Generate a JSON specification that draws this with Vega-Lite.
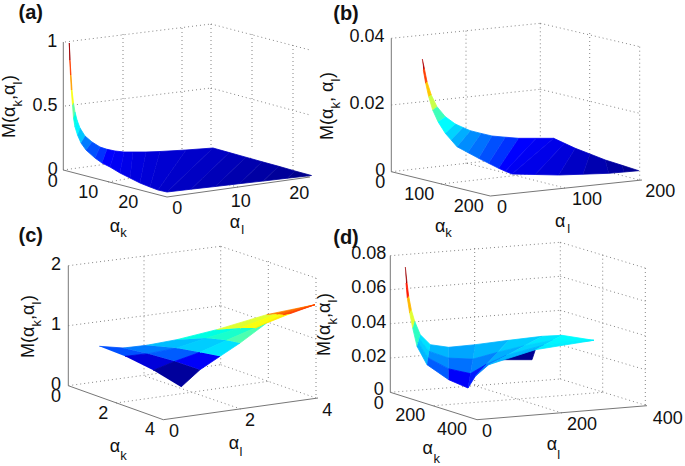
{
"$schema":"https://vega.github.io/schema/vega-lite/v6.json",
"width":685,"height":466,"padding":0,
"autosize":{"type":"fit","contains":"padding"},
"background":"white",
"view":{"stroke":null},
"datasets":{
"grid":[
{"x":65,"y":42,"x2":211,"y2":24},{"x":211,"y":24,"x2":310,"y2":50},{"x":65,"y":106,"x2":211,"y2":88},{"x":211,"y":88,"x2":310,"y2":115},
{"x":123,"y":34,"x2":123,"y2":160},{"x":182,"y":28,"x2":182,"y2":155},{"x":211,"y":24,"x2":211,"y2":150},{"x":252,"y":34,"x2":252,"y2":150},{"x":293,"y":45,"x2":293,"y2":170},
{"x":63,"y":170,"x2":211,"y2":150},{"x":211,"y":150,"x2":310,"y2":177},{"x":108,"y":182,"x2":252,"y2":158},{"x":238,"y":187,"x2":123,"y2":160},
{"x":391.3,"y":38.3,"x2":540.3,"y2":23.3},{"x":540.3,"y":23.3,"x2":639.7,"y2":46.7},{"x":391.3,"y":105,"x2":540.3,"y2":89.3},{"x":540.3,"y":89.3,"x2":639.7,"y2":113.3},
{"x":466,"y":30.7,"x2":466,"y2":165},{"x":540.3,"y":23.3,"x2":540.3,"y2":155},{"x":589.7,"y":33,"x2":589.7,"y2":167},{"x":639.7,"y":46.7,"x2":639.7,"y2":180},
{"x":391.3,"y":171.7,"x2":540.3,"y2":155},{"x":540.3,"y":155,"x2":639.7,"y2":180},{"x":441,"y":184,"x2":589.7,"y2":167},{"x":565,"y":188,"x2":466,"y2":163},
{"x":68.3,"y":265.7,"x2":220.7,"y2":246.3},{"x":220.7,"y":246.3,"x2":316,"y2":278},{"x":68.3,"y":325.7,"x2":220.7,"y2":305.7},{"x":220.7,"y":305.7,"x2":316,"y2":339},
{"x":144,"y":256.3,"x2":144,"y2":375.7},{"x":220.7,"y":246.3,"x2":220.7,"y2":364.7},{"x":268.3,"y":261,"x2":268.3,"y2":381.3},{"x":316,"y":278,"x2":316,"y2":398},
{"x":68.3,"y":385.7,"x2":220.7,"y2":364.7},{"x":220.7,"y":364.7,"x2":316,"y2":398},{"x":116,"y":403,"x2":268.3,"y2":381.3},{"x":240.7,"y":409,"x2":144,"y2":375.7},
{"x":390.3,"y":255.7,"x2":560.3,"y2":242.3},{"x":560.3,"y":242.3,"x2":645.3,"y2":268},{"x":390.3,"y":289.7,"x2":560.3,"y2":276.3},{"x":560.3,"y":276.3,"x2":645.3,"y2":301.3},
{"x":390.3,"y":323.7,"x2":560.3,"y2":310.3},{"x":560.3,"y":310.3,"x2":645.3,"y2":335.7},{"x":390.3,"y":358,"x2":560.3,"y2":344.7},{"x":560.3,"y":344.7,"x2":645.3,"y2":369.7},
{"x":474.7,"y":248,"x2":474.7,"y2":385.7},{"x":560.3,"y":242.3,"x2":560.3,"y2":379},{"x":602.7,"y":254.7,"x2":602.7,"y2":392.3},{"x":645.3,"y":268,"x2":645.3,"y2":405.7},
{"x":390.3,"y":392.3,"x2":560.3,"y2":379},{"x":560.3,"y":379,"x2":647,"y2":405.7},{"x":433.7,"y":405.7,"x2":602.7,"y2":392.3},{"x":562,"y":413,"x2":474.7,"y2":385.7}
],
"axes":[
{"x":63.3,"y":42,"x2":63.3,"y2":170},{"x":63.3,"y":170,"x2":167,"y2":197},{"x":167,"y":197,"x2":310,"y2":177},
{"x":391.3,"y":38.3,"x2":391.3,"y2":171.7},{"x":391.3,"y":171.7,"x2":490.3,"y2":196},{"x":490.3,"y":196,"x2":642,"y2":180},
{"x":68.3,"y":265.7,"x2":68.3,"y2":385.7},{"x":68.3,"y":385.7,"x2":163.3,"y2":419.7},{"x":163.3,"y":419.7,"x2":318,"y2":398},
{"x":390.3,"y":255.7,"x2":390.3,"y2":392.3},{"x":390.3,"y":392.3,"x2":477,"y2":419.7},{"x":477,"y":419.7,"x2":647,"y2":405.7}
],
"surface":[
{"patch":"a1","v":0.97,"x":[69.3,70,69.8,69.3],"y":[43,60,60,43]},
{"patch":"a2","v":0.85,"x":[70,71,70.5,69.8],"y":[60,75,75,60]},
{"patch":"a3","v":0.75,"x":[71,72,71.3,70.5],"y":[75,90,90,75]},
{"patch":"a4","v":0.62,"x":[72,73.5,72.5,71.3],"y":[90,103,105,90]},
{"patch":"a5","v":0.5,"x":[73.5,75,73.5,72.5],"y":[103,112,118,105]},
{"patch":"a6","v":0.42,"x":[75,77,75,73.5],"y":[112,120,127,118]},
{"patch":"a7","v":0.36,"x":[77,80,77.5,75],"y":[120,128,135,127]},
{"patch":"a8","v":0.29,"x":[80,85,81,77.5],"y":[128,136,143,135]},
{"patch":"a9","v":0.2,"x":[85,92,86,81],"y":[136,142,150,143]},
{"patch":"a10","v":0.16,"x":[92,100,95,86],"y":[142,147,158,150]},
{"patch":"a11","v":0.14,"x":[100,107,102,95],"y":[147,149.3,163,158]},
{"patch":"a12","v":0.125,"x":[107,115,110,102],"y":[149.3,151,167,163]},
{"patch":"a13","v":0.115,"x":[115,124,120,110],"y":[151,152,173,167]},
{"patch":"a14","v":0.105,"x":[124,133,130,120],"y":[152,152,178,173]},
{"patch":"a15","v":0.095,"x":[133,146,140,130],"y":[152,152,183,178]},
{"patch":"a16","v":0.088,"x":[146,160,150,140],"y":[152,151.5,187,183]},
{"patch":"a17","v":0.082,"x":[160,186,158,150],"y":[151.5,150,190,187]},
{"patch":"a18","v":0.075,"x":[186,213,167,158],"y":[150,148,192,190]},
{"patch":"a19","v":0.068,"x":[213,229.4,191,167],"y":[148,152.6,189.2,192]},
{"patch":"a20","v":0.058,"x":[229.4,245.8,215.2,191],"y":[152.6,157.2,186.5,189.2]},
{"patch":"a21","v":0.048,"x":[245.8,262.2,239.2,215.2],"y":[157.2,161.8,183.7,186.5]},
{"patch":"a22","v":0.038,"x":[262.2,278.7,263.3,239.2],"y":[161.8,166.3,181,183.7]},
{"patch":"a23","v":0.028,"x":[278.7,295,287.4,263.3],"y":[166.3,171,178.2,181]},
{"patch":"a24","v":0.015,"x":[295,311.5,287.4],"y":[171,175.5,178.2]},
{"patch":"b1","v":0.95,"x":[422.3,424.3,423.3],"y":[59,68.3,70]},
{"patch":"b2","v":0.85,"x":[424.3,427,425.7,423.3],"y":[68.3,81.7,83.3,70]},
{"patch":"b3","v":0.7,"x":[427,431.3,428.7,425.7],"y":[81.7,95,96.7,83.3]},
{"patch":"b4","v":0.58,"x":[431.3,437,432.7,428.7],"y":[95,106.7,110,96.7]},
{"patch":"b5","v":0.47,"x":[437,445.3,438,432.7],"y":[106.7,116.7,121.7,110]},
{"patch":"b6","v":0.37,"x":[445.3,455.3,445.3,438],"y":[116.7,124,133.3,121.7]},
{"patch":"b7","v":0.31,"x":[455.3,462.8,451.2,445.3],"y":[124,127.4,140,133.3]},
{"patch":"b8","v":0.26,"x":[462.8,470.3,457,451.2],"y":[127.4,130.7,146.7,140]},
{"patch":"b9","v":0.22,"x":[470.3,481,467.8,457],"y":[130.7,133.4,152.5,146.7]},
{"patch":"b10","v":0.19,"x":[481,492,478.7,467.8],"y":[133.4,136,158.3,152.5]},
{"patch":"b11","v":0.16,"x":[492,505.3,488.7,478.7],"y":[136,137.2,163.3,158.3]},
{"patch":"b12","v":0.14,"x":[505.3,518.7,498.7,488.7],"y":[137.2,138.3,168.3,163.3]},
{"patch":"b13","v":0.125,"x":[518.7,536.2,505.3,498.7],"y":[138.3,138.3,171.2,168.3]},
{"patch":"b14","v":0.115,"x":[536.2,553.7,512,505.3],"y":[138.3,138.3,174,171.2]},
{"patch":"b15","v":0.105,"x":[553.7,564.5,535.3,512],"y":[138.3,143.3,174.5,174]},
{"patch":"b16","v":0.09,"x":[564.5,575.3,558.7,535.3],"y":[143.3,148.3,175,174.5]},
{"patch":"b17","v":0.07,"x":[575.3,590,583,558.7],"y":[148.3,154,174.2,175]},
{"patch":"b18","v":0.05,"x":[590,605.3,608.7,583],"y":[154,160,173.3,174.2]},
{"patch":"b19","v":0.035,"x":[605.3,622,624,608.7],"y":[160,165.3,172,173.3]},
{"patch":"b20","v":0.02,"x":[622,638.7,624],"y":[165.3,170.7,172]},
{"patch":"c1","v":0.16,"x":[99.3,123.3,148.3,125],"y":[346.3,348,353.7,356.3]},
{"patch":"c2","v":0.09,"x":[125,148.3,175,153.3],"y":[356.3,353.7,361.3,370.3]},
{"patch":"c3","v":0.03,"x":[153.3,175,200,181],"y":[370.3,361.3,369.7,387]},
{"patch":"c4","v":0.2,"x":[123.3,146.7,176.7,148.3],"y":[348,345.3,348,353.7]},
{"patch":"c5","v":0.17,"x":[148.3,176.7,200,175],"y":[353.7,348,352.3,361.3]},
{"patch":"c6","v":0.12,"x":[175,200,220,200],"y":[361.3,352.3,356.3,369.7]},
{"patch":"c7","v":0.28,"x":[146.7,176.7,206.7,176.7],"y":[345.3,339.7,338,348]},
{"patch":"c8","v":0.3,"x":[176.7,206.7,226.7,200],"y":[348,338,340.3,352.3]},
{"patch":"c9","v":0.33,"x":[200,226.7,240,220],"y":[352.3,340.3,343,356.3]},
{"patch":"c10","v":0.42,"x":[176.7,216.7,240,206.7],"y":[339.7,329.7,328,338]},
{"patch":"c11","v":0.45,"x":[206.7,240,255,226.7],"y":[338,328,328,340.3]},
{"patch":"c12","v":0.48,"x":[226.7,255,266.7,240],"y":[340.3,328,323,343]},
{"patch":"c13","v":0.6,"x":[216.7,266.7,276.7,240],"y":[329.7,314.7,314,328]},
{"patch":"c14","v":0.62,"x":[240,276.7,283.3,255],"y":[328,314,314.7,328]},
{"patch":"c15","v":0.65,"x":[255,283.3,290,266.7],"y":[328,314.7,313.7,323]},
{"patch":"c16","v":0.78,"x":[266.7,315,276.7],"y":[314.7,304.7,314]},
{"patch":"c17","v":0.82,"x":[276.7,315,283.3],"y":[314,304.7,314.7]},
{"patch":"c18","v":0.85,"x":[283.3,315,290],"y":[314.7,304.7,313.7]},
{"patch":"d0","v":0.02,"x":[498.7,532,535.3,515.3],"y":[359.7,359.7,349.7,353.7]},
{"patch":"d1","v":0.97,"x":[405.3,407,406],"y":[267,283,283]},
{"patch":"d2","v":0.87,"x":[407,408.7,407.3,406],"y":[283,296.3,298,283]},
{"patch":"d3","v":0.72,"x":[408.7,411.3,409.7,407.3],"y":[296.3,309.7,313,298]},
{"patch":"d4","v":0.6,"x":[411.3,414.7,412.7,409.7],"y":[309.7,321.3,328,313]},
{"patch":"d5","v":0.46,"x":[414.7,420.3,417,412.7],"y":[321.3,334.7,346.3,328]},
{"patch":"d6","v":0.33,"x":[420.3,430.3,429.2,419.2],"y":[334.7,344.7,351.4,338.6]},
{"patch":"d7","v":0.3,"x":[419.2,429.2,428.1,418.1],"y":[338.6,351.4,358,342.4]},
{"patch":"d8","v":0.27,"x":[418.1,428.1,427,417],"y":[342.4,358,364.7,346.3]},
{"patch":"d9","v":0.27,"x":[430.3,448.7,448.7,429.2],"y":[344.7,347.3,358.1,351.4]},
{"patch":"d10","v":0.22,"x":[429.2,448.7,448.7,428.1],"y":[351.4,358.1,368.9,358]},
{"patch":"d11","v":0.17,"x":[428.1,448.7,448.7,427],"y":[358,368.9,379.7,364.7]},
{"patch":"d12","v":0.25,"x":[448.7,475.3,472.9,448.7],"y":[347.3,344.7,359.1,358.1]},
{"patch":"d13","v":0.19,"x":[448.7,472.9,470.4,448.7],"y":[358.1,359.1,373.6,368.9]},
{"patch":"d14","v":0.12,"x":[448.7,470.4,468,448.7],"y":[368.9,373.6,388,379.7]},
{"patch":"d15","v":0.27,"x":[475.3,508.7,497.6,472.9],"y":[344.7,340.3,352.3,359.1]},
{"patch":"d16","v":0.21,"x":[472.9,497.6,486.4,470.4],"y":[359.1,352.3,364.3,373.6]},
{"patch":"d17","v":0.13,"x":[470.4,486.4,475.3,468],"y":[373.6,364.3,376.3,388]},
{"patch":"d18","v":0.3,"x":[508.7,542,524.2,497.6],"y":[340.3,336.3,345.8,352.3]},
{"patch":"d19","v":0.26,"x":[497.6,524.2,506.5,486.4],"y":[352.3,345.8,355.2,364.3]},
{"patch":"d20","v":0.21,"x":[486.4,506.5,488.7,475.3],"y":[364.3,355.2,364.7,376.3]},
{"patch":"d21","v":0.34,"x":[542,562,553.1,524.2],"y":[336.3,335.3,340.1,345.8]},
{"patch":"d22","v":0.31,"x":[524.2,553.1,544.2,506.5],"y":[345.8,340.1,344.9,355.2]},
{"patch":"d23","v":0.27,"x":[506.5,544.2,535.3,488.7],"y":[355.2,344.9,349.7,364.7]},
{"patch":"d24","v":0.37,"x":[562,593.7,553.1],"y":[335.3,340.3,340.1]},
{"patch":"d25","v":0.36,"x":[553.1,593.7,544.2],"y":[340.1,340.3,344.9]},
{"patch":"d26","v":0.35,"x":[544.2,593.7,535.3],"y":[344.9,340.3,349.7]}
],
"ticks":[
{"x":52.3,"y":42,"t":"1"},{"x":45,"y":106,"t":"0.5"},{"x":52.7,"y":170,"t":"0"},{"x":52.7,"y":181.7,"t":"0"},{"x":88.3,"y":192.7,"t":"10"},{"x":128.3,"y":202.7,"t":"20"},{"x":177.3,"y":209.3,"t":"0"},{"x":240.7,"y":201.7,"t":"10"},{"x":299.3,"y":194.3,"t":"20"},
{"x":367,"y":37.3,"t":"0.04"},{"x":367,"y":104.3,"t":"0.02"},{"x":380.3,"y":170.7,"t":"0"},{"x":380.3,"y":182.7,"t":"0"},{"x":419.3,"y":195,"t":"100"},{"x":468.7,"y":207.3,"t":"200"},{"x":502,"y":208.3,"t":"0"},{"x":587,"y":200,"t":"100"},{"x":660.3,"y":192.3,"t":"200"},
{"x":56,"y":265.3,"t":"2"},{"x":56,"y":324.7,"t":"1"},{"x":56,"y":384.7,"t":"0"},{"x":56,"y":397,"t":"0"},{"x":103.3,"y":413.7,"t":"2"},{"x":150,"y":430.3,"t":"4"},{"x":174,"y":432,"t":"0"},{"x":250,"y":421.3,"t":"2"},{"x":327.3,"y":411.3,"t":"4"},
{"x":368.7,"y":254,"t":"0.08"},{"x":368.7,"y":288,"t":"0.06"},{"x":368.7,"y":323,"t":"0.04"},{"x":368.7,"y":357.3,"t":"0.02"},{"x":378.7,"y":390.3,"t":"0"},{"x":378.7,"y":403.7,"t":"0"},{"x":410.3,"y":416.3,"t":"200"},{"x":452,"y":430.3,"t":"400"},{"x":487,"y":432,"t":"0"},{"x":582,"y":424.7,"t":"200"},{"x":667.7,"y":418.7,"t":"400"}
],
"titles":[{"x":30.7,"y":13,"t":"(a)"},{"x":346,"y":14,"t":"(b)"},{"x":30.7,"y":236,"t":"(c)"},{"x":346,"y":238,"t":"(d)"}],
"greek":[{"x":115,"y":226.7,"t":"α"},{"x":235,"y":222.7,"t":"α"},{"x":440.3,"y":226.7,"t":"α"},{"x":560.3,"y":221.7,"t":"α"},{"x":115,"y":447,"t":"α"},{"x":234,"y":443.7,"t":"α"},{"x":427.7,"y":449,"t":"α"},{"x":552,"y":445.3,"t":"α"}],
"subs":[{"x":123.5,"y":233,"t":"k"},{"x":242.7,"y":230,"t":"l"},{"x":448.5,"y":233.3,"t":"k"},{"x":568.7,"y":229.3,"t":"l"},{"x":123.5,"y":455.7,"t":"k"},{"x":241,"y":452.3,"t":"l"},{"x":436.8,"y":459,"t":"k"},{"x":558.7,"y":454.7,"t":"l"}],
"ylab":[
{"x":10,"y":138,"t":"M(α"},{"x":10,"y":100,"t":",α"},{"x":10,"y":81,"t":")"},
{"x":328,"y":140,"t":"M(α"},{"x":328,"y":102,"t":", α"},{"x":328,"y":78,"t":")"},
{"x":29.3,"y":358,"t":"M(α"},{"x":29.3,"y":320,"t":",α"},{"x":29.3,"y":301,"t":")"},
{"x":325,"y":356,"t":"M(α"},{"x":325,"y":318,"t":",α"},{"x":325,"y":299,"t":")"}
],
"ysub":[
{"x":17.5,"y":106.5,"t":"k"},{"x":17.5,"y":84.5,"t":"l"},
{"x":336,"y":108.5,"t":"k"},{"x":336,"y":81.5,"t":"l"},
{"x":36.8,"y":326.5,"t":"k"},{"x":36.8,"y":304.5,"t":"l"},
{"x":333,"y":324.5,"t":"k"},{"x":333,"y":302.5,"t":"l"}
]
},
"encoding":{
"x":{"field":"x","type":"quantitative","scale":{"domain":[0,685],"nice":false,"zero":false},"axis":null},
"y":{"field":"y","type":"quantitative","scale":{"domain":[466,0],"nice":false,"zero":false},"axis":null}
},
"layer":[
{"data":{"name":"grid"},"mark":{"type":"rule","stroke":"#666666","strokeWidth":0.8,"strokeDash":[1,3]},"encoding":{"x2":{"field":"x2"},"y2":{"field":"y2"}}},
{"data":{"name":"axes"},"mark":{"type":"rule","stroke":"#777777","strokeWidth":1},"encoding":{"x2":{"field":"x2"},"y2":{"field":"y2"}}},
{"data":{"name":"surface"},
"transform":[{"flatten":["x","y"]},{"window":[{"op":"row_number","as":"i"}],"groupby":["patch"]}],
"mark":{"type":"line","strokeWidth":0.8,"strokeJoin":"round"},
"encoding":{
"detail":{"field":"patch"},
"order":{"field":"i","type":"quantitative"},
"fill":{"field":"v","type":"quantitative","legend":null,"scale":{"domain":[0,0.125,0.375,0.625,0.875,1],"range":["#00007f","#0000ff","#00ffff","#ffff00","#ff0000","#800000"]}},
"stroke":{"field":"v","type":"quantitative","legend":null,"scale":{"domain":[0,0.125,0.375,0.625,0.875,1],"range":["#00007f","#0000ff","#00ffff","#ffff00","#ff0000","#800000"]}}
}},
{"data":{"name":"ticks"},"mark":{"type":"text","font":"Liberation Sans","fontSize":18,"align":"center","baseline":"middle","color":"#111111"},"encoding":{"text":{"field":"t"}}},
{"data":{"name":"titles"},"mark":{"type":"text","font":"Liberation Sans","fontSize":20,"fontWeight":"bold","align":"center","baseline":"middle","color":"#111111"},"encoding":{"text":{"field":"t"}}},
{"data":{"name":"greek"},"mark":{"type":"text","font":"Liberation Sans","fontSize":18,"align":"center","baseline":"middle","color":"#111111"},"encoding":{"text":{"field":"t"}}},
{"data":{"name":"subs"},"mark":{"type":"text","font":"Liberation Sans","fontSize":13,"align":"center","baseline":"middle","color":"#111111"},"encoding":{"text":{"field":"t"}}},
{"data":{"name":"ylab"},"mark":{"type":"text","font":"Liberation Sans","fontSize":18,"angle":270,"align":"left","baseline":"middle","color":"#111111"},"encoding":{"text":{"field":"t"}}},
{"data":{"name":"ysub"},"mark":{"type":"text","font":"Liberation Sans","fontSize":13,"angle":270,"align":"left","baseline":"middle","color":"#111111"},"encoding":{"text":{"field":"t"}}}
]
}
